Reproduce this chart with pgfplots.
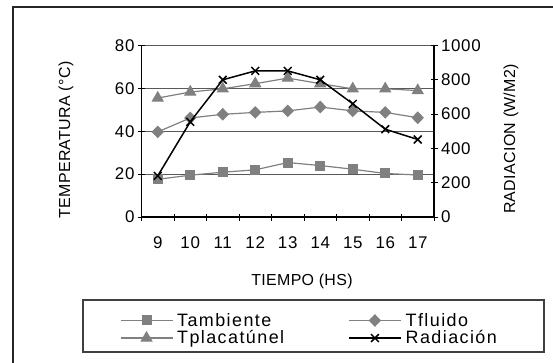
\documentclass[border=0pt]{standalone}
\usepackage{fontspec}
\setmainfont{Liberation Sans}
\newfontfamily\legfont[LetterSpace=8]{Liberation Sans}
\newfontfamily\tickfont[LetterSpace=4]{Liberation Sans}
\newfontfamily\labfont[LetterSpace=2]{Liberation Sans}
\usepackage{pgfplots}
\pgfplotsset{compat=1.18}
\definecolor{sgray}{RGB}{128,128,128}
\newcommand{\tickf}{\tickfont\fontsize{17}{20}\selectfont}
\newcommand{\labf}{\labfont\fontsize{16}{19}\selectfont}
\newcommand{\legf}{\legfont\fontsize{18}{20}\selectfont}
\pgfplotstableread{
x tamb tflu tpla
9  17.6 39.7 55.5
10 19.5 46.2 58.3
11 20.9 47.9 59.8
12 22.0 48.8 62.2
13 25.4 49.5 64.8
14 24.0 51.3 62.2
15 22.3 49.5 59.8
16 20.3 48.8 59.8
17 19.6 46.3 59.0
}\temps
\pgfplotstableread{
x rad
9  240
10 555
11 800
12 852
13 852
14 800
15 660
16 512
17 452
}\radtab
\begin{document}
\begin{tikzpicture}[x=1bp,y=1bp]
\path[use as bounding box] (0,0) rectangle (553,362);
\draw[line width=1.3bp, black!85] (13,-10) -- (13,355) -- (570,355);
\draw[line width=1.2bp, black!75] (83,62) rectangle (544,10);
\pgfplotsset{
  base/.style={scale only axis, width=292.5bp, height=171.5bp,
    at={(141.5bp,145bp)}, anchor=south west,
    xmin=8.5, xmax=17.5, tick align=center, major tick length=7bp,
    every tick/.style={black, line width=1bp},
    axis line style={line width=1.2bp},
    /pgf/number format/assume math mode=true,
    /pgf/number format/1000 sep={},
    xticklabel style={font=\tickf},
    yticklabel style={font=\tickf}},
  gs/.style={color=sgray, line width=1.2bp, mark options={solid, fill=sgray, draw=sgray}},
  dia/.style={gs, mark=diamond*, mark size=5.5bp, mark options={solid, fill=sgray, draw=sgray, xscale=1.3}},
  legend image code/.code={\draw[mark repeat=2,mark phase=2,#1] plot coordinates {(0bp,0bp)(26bp,0bp)(52bp,0bp)};}
}
\begin{axis}[base, axis x line*=bottom, axis y line*=left,
  ymin=0, ymax=80, ytick={0,20,...,80},
  ymajorgrids, grid style={black!65, line width=1bp},
  xtick={8.5,9.5,...,17.5}, xticklabels={},
  extra x ticks={9,...,17},
  extra x tick style={major tick length=0pt, grid=none, xticklabel style={yshift=-16bp}}]
\addplot[gs, mark=square*, mark size=4.4bp] table[x=x, y=tamb] {\temps};
\addplot[dia] table[x=x, y=tflu] {\temps};
\addplot[gs, mark=triangle*, mark size=6bp] table[x=x, y=tpla] {\temps};
\end{axis}
\begin{axis}[base, axis x line=none, axis y line*=right,
  ymin=0, ymax=1000, ytick={0,200,...,1000},
  legend columns=2, legend cell align=left,
  legend style={at={(axis description cs:0.574,-0.655)}, anchor=center, draw=none, fill=none,
    font=\legf, row sep=-1bp,
    /tikz/every odd column/.append style={column sep=2bp},
    /tikz/every even column/.append style={column sep=62bp}}]
\addlegendimage{gs, mark=square*, mark size=4.4bp}
\addlegendentry{Tambiente}
\addlegendimage{dia}
\addlegendentry{Tfluido}
\addlegendimage{gs, mark=triangle*, mark size=6bp}
\addlegendentry{Tplacatúnel}
\addplot[black, line width=1.5bp, mark=x, mark size=5.5bp] table[x=x, y=rad] {\radtab};
\addlegendentry{Radiación}
\end{axis}
\node[font=\labf] at (302,81) {TIEMPO (HS)};
\node[font=\labf, rotate=90] at (66,222) {TEMPERATURA (°C)};
\node[font=\labf, rotate=90] at (511,223) {RADIACION (W/M2)};
\end{tikzpicture}
\end{document}
